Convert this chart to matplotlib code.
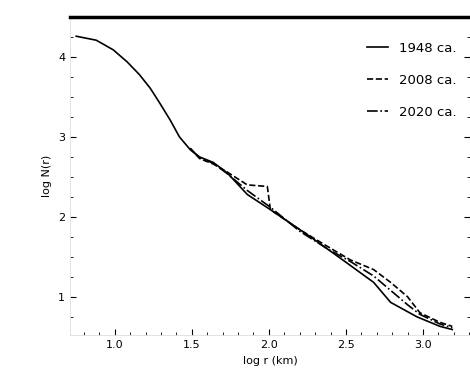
import numpy as np
import matplotlib.pyplot as plt
from matplotlib.ticker import MultipleLocator

# log r vs log N, three surveys
x_1948 = [0.75, 0.88, 0.99, 1.08, 1.16, 1.23, 1.29, 1.36, 1.42, 1.49, 1.55, 1.64, 1.73,
          1.86, 2.01, 2.27, 2.48, 2.68, 2.79, 2.96, 3.11, 3.19]
y_1948 = [4.26, 4.21, 4.09, 3.94, 3.78, 3.61, 3.43, 3.21, 3.00, 2.84, 2.75, 2.68, 2.55,
          2.28, 2.09, 1.75, 1.46, 1.18, 0.93, 0.75, 0.63, 0.59]

x_2008 = [1.49, 1.55, 1.64, 1.73, 1.86, 1.99, 2.01, 2.20, 2.38, 2.53, 2.68, 2.79, 2.90,
          2.98, 3.11, 3.19]
y_2008 = [2.86, 2.73, 2.66, 2.56, 2.40, 2.38, 2.09, 1.84, 1.63, 1.46, 1.34, 1.18, 1.00,
          0.80, 0.68, 0.63]

x_2020 = [1.49, 1.55, 1.64, 1.73, 1.86, 2.01, 2.20, 2.38, 2.53, 2.68, 2.79, 2.90, 2.98,
          3.11, 3.19]
y_2020 = [2.85, 2.74, 2.67, 2.54, 2.33, 2.12, 1.82, 1.60, 1.44, 1.26, 1.08, 0.90, 0.78,
          0.66, 0.61]

labels = ['1948 ca.', '2008 ca.', '2020 ca.']

fig = plt.figure(figsize=(4.7, 3.87), dpi=100)
ax = fig.add_axes([0.149, 0.134, 0.851, 0.822])

ax.plot(x_1948, y_1948, 'k-', lw=1.2, label=labels[0])
ax.plot(x_2008, y_2008, 'k--', lw=1.2, label=labels[1])
ax.plot(x_2020, y_2020, 'k-.', lw=1.2, label=labels[2])

ax.set_xlim(0.71, 3.305)
ax.set_ylim(0.52, 4.5)
ax.xaxis.set_major_locator(MultipleLocator(0.5))
ax.xaxis.set_minor_locator(MultipleLocator(0.1))
ax.yaxis.set_major_locator(MultipleLocator(1))
ax.yaxis.set_minor_locator(MultipleLocator(0.25))
ax.tick_params(which='both', direction='in', top=False, right=True, labelsize=8)
ax.tick_params(which='major', length=4)
ax.tick_params(which='minor', length=2)

for side in ['left', 'bottom', 'right']:
    ax.spines[side].set_color('#dddddd')
    ax.spines[side].set_linewidth(0.6)
ax.spines['top'].set_linewidth(2.5)

ax.set_xlabel('log r (km)', fontsize=8)
ax.set_ylabel('log N(r)', fontsize=8)
ax.legend(loc='upper right', frameon=False, fontsize=9.5, handlelength=1.6,
          handletextpad=0.8, labelspacing=1.45, bbox_to_anchor=(0.995, 0.96))

fig.savefig('out.png', dpi=100)
